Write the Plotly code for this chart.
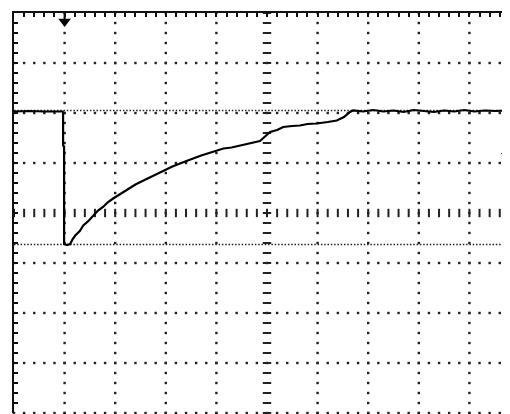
import numpy as np
import plotly.graph_objects as go

# ---- data (time in divisions, amplitude in divisions, 0 = bottom graticule line) ----
t_div = [0.00, 0.30, 0.60, 0.96, 0.97, 0.97, 0.99, 0.99, 1.05, 1.11, 1.16, 1.21, 1.30,
         1.37, 1.47, 1.57, 1.66, 1.76, 1.86, 1.96, 2.10, 2.23, 2.40, 2.56, 2.72,
         2.89, 2.98, 3.13, 3.28, 3.40, 3.54, 3.70, 3.84, 4.00, 4.14, 4.30, 4.47,
         4.66, 4.86, 4.95, 5.06, 5.20, 5.32, 5.50, 5.65, 5.80, 5.98, 6.20, 6.38,
         6.52, 6.64, 6.70, 6.90, 7.10, 7.30, 7.50, 7.70, 7.90, 8.10, 8.30, 8.50,
         8.70, 8.90, 9.10, 9.30, 9.50, 9.80]
v_div = [6.03, 6.04, 6.03, 6.03, 6.01, 5.35, 5.33, 3.38, 3.36, 3.38, 3.48, 3.55, 3.64,
         3.75, 3.84, 3.95, 4.05, 4.12, 4.22, 4.29, 4.38, 4.45, 4.57, 4.65, 4.73,
         4.82, 4.85, 4.93, 4.99, 5.03, 5.09, 5.15, 5.19, 5.25, 5.29, 5.31, 5.35,
         5.40, 5.44, 5.52, 5.62, 5.66, 5.72, 5.74, 5.75, 5.78, 5.79, 5.82, 5.85,
         5.92, 6.02, 6.05, 6.03, 6.06, 6.03, 6.05, 6.02, 6.06, 6.04, 6.02, 6.05,
         6.03, 6.06, 6.03, 6.05, 6.04, 6.05]
cursor_levels = [6.05, 3.37]
trigger_time = [1.0]
trigger_level = [5.19]
ground_level = [6.05]

X_MAX = 496 / 50.6
fig = go.Figure()

# graticule dots
sub = np.round(np.arange(0, 8.001, 0.2), 3)
subx = np.round(np.arange(0, 10.001, 0.2), 3)
gx, gy = [], []
for xv in range(1, 10):
    if xv == 5:
        continue
    gx += [xv] * len(sub)
    gy += list(sub)
for yv in range(0, 8):
    if yv == 4:
        continue
    gx += list(subx)
    gy += [yv] * len(subx)
fig.add_trace(go.Scatter(x=gx, y=gy, mode="markers", cliponaxis=False,
                         marker=dict(symbol="square", size=2.4, color="#222", line=dict(width=0)),
                         hoverinfo="skip", showlegend=False))
# centre lines with dashes
fig.add_trace(go.Scatter(x=list(subx), y=[4] * len(subx), mode="markers",
                         marker=dict(symbol="line-ns", size=6, line=dict(width=2, color="#222")),
                         hoverinfo="skip", showlegend=False))
fig.add_trace(go.Scatter(x=[5] * len(sub), y=list(sub), mode="markers", cliponaxis=False,
                         marker=dict(symbol="line-ew", size=6, line=dict(width=2, color="#222")),
                         hoverinfo="skip", showlegend=False))
# cursor lines
for lv in cursor_levels:
    fig.add_trace(go.Scatter(x=[0, X_MAX], y=[lv, lv], mode="lines",
                             line=dict(color="#222", width=1.5, dash="1.5px,1.8px"),
                             hoverinfo="skip", showlegend=False))
# waveform
fig.add_trace(go.Scatter(x=t_div, y=v_div, mode="lines",
                         line=dict(color="black", width=2.2),
                         showlegend=False))
# markers
fig.add_trace(go.Scatter(x=trigger_time * 2, y=[8, 7.88], mode="lines",
                         line=dict(color="black", width=2),
                         hoverinfo="skip", showlegend=False))
fig.add_trace(go.Scatter(x=trigger_time, y=[7.83], mode="markers", cliponaxis=False,
                         marker=dict(symbol="triangle-down", size=11, color="black"),
                         hoverinfo="skip", showlegend=False))
fig.add_trace(go.Scatter(x=[X_MAX - 0.1], y=trigger_level, mode="markers", cliponaxis=False,
                         marker=dict(symbol="triangle-left", size=8, color="black"),
                         hoverinfo="skip", showlegend=False))
fig.add_trace(go.Scatter(x=[-0.05], y=ground_level, mode="markers", cliponaxis=False,
                         marker=dict(symbol="triangle-right", size=6, color="black"),
                         hoverinfo="skip", showlegend=False))
fig.add_trace(go.Scatter(x=[0, 1], y=[8, 8], xaxis="x2", mode="lines",
                         line=dict(width=0), hoverinfo="skip", showlegend=False))

fig.update_layout(
    width=502, height=406,
    margin=dict(l=6, r=0, t=5, b=1),
    paper_bgcolor="white", plot_bgcolor="white",
    xaxis=dict(range=[0, X_MAX], showgrid=False, zeroline=False, showticklabels=False,
               ticks="", showline=False),
    xaxis2=dict(range=[0, X_MAX], overlaying="x", side="top", showgrid=False,
                zeroline=False, showticklabels=False, ticks="inside", dtick=0.2, tick0=0,
                ticklen=4, tickwidth=2, tickcolor="#111",
                showline=True, linecolor="#111", linewidth=2),
    yaxis=dict(range=[0, 8], showgrid=False, zeroline=False, showticklabels=False,
               ticks="inside", dtick=0.2, tick0=0, ticklen=4, tickwidth=2, tickcolor="#111",
               showline=True, linecolor="#111", linewidth=2),
)
fig.write_html("out.html")
